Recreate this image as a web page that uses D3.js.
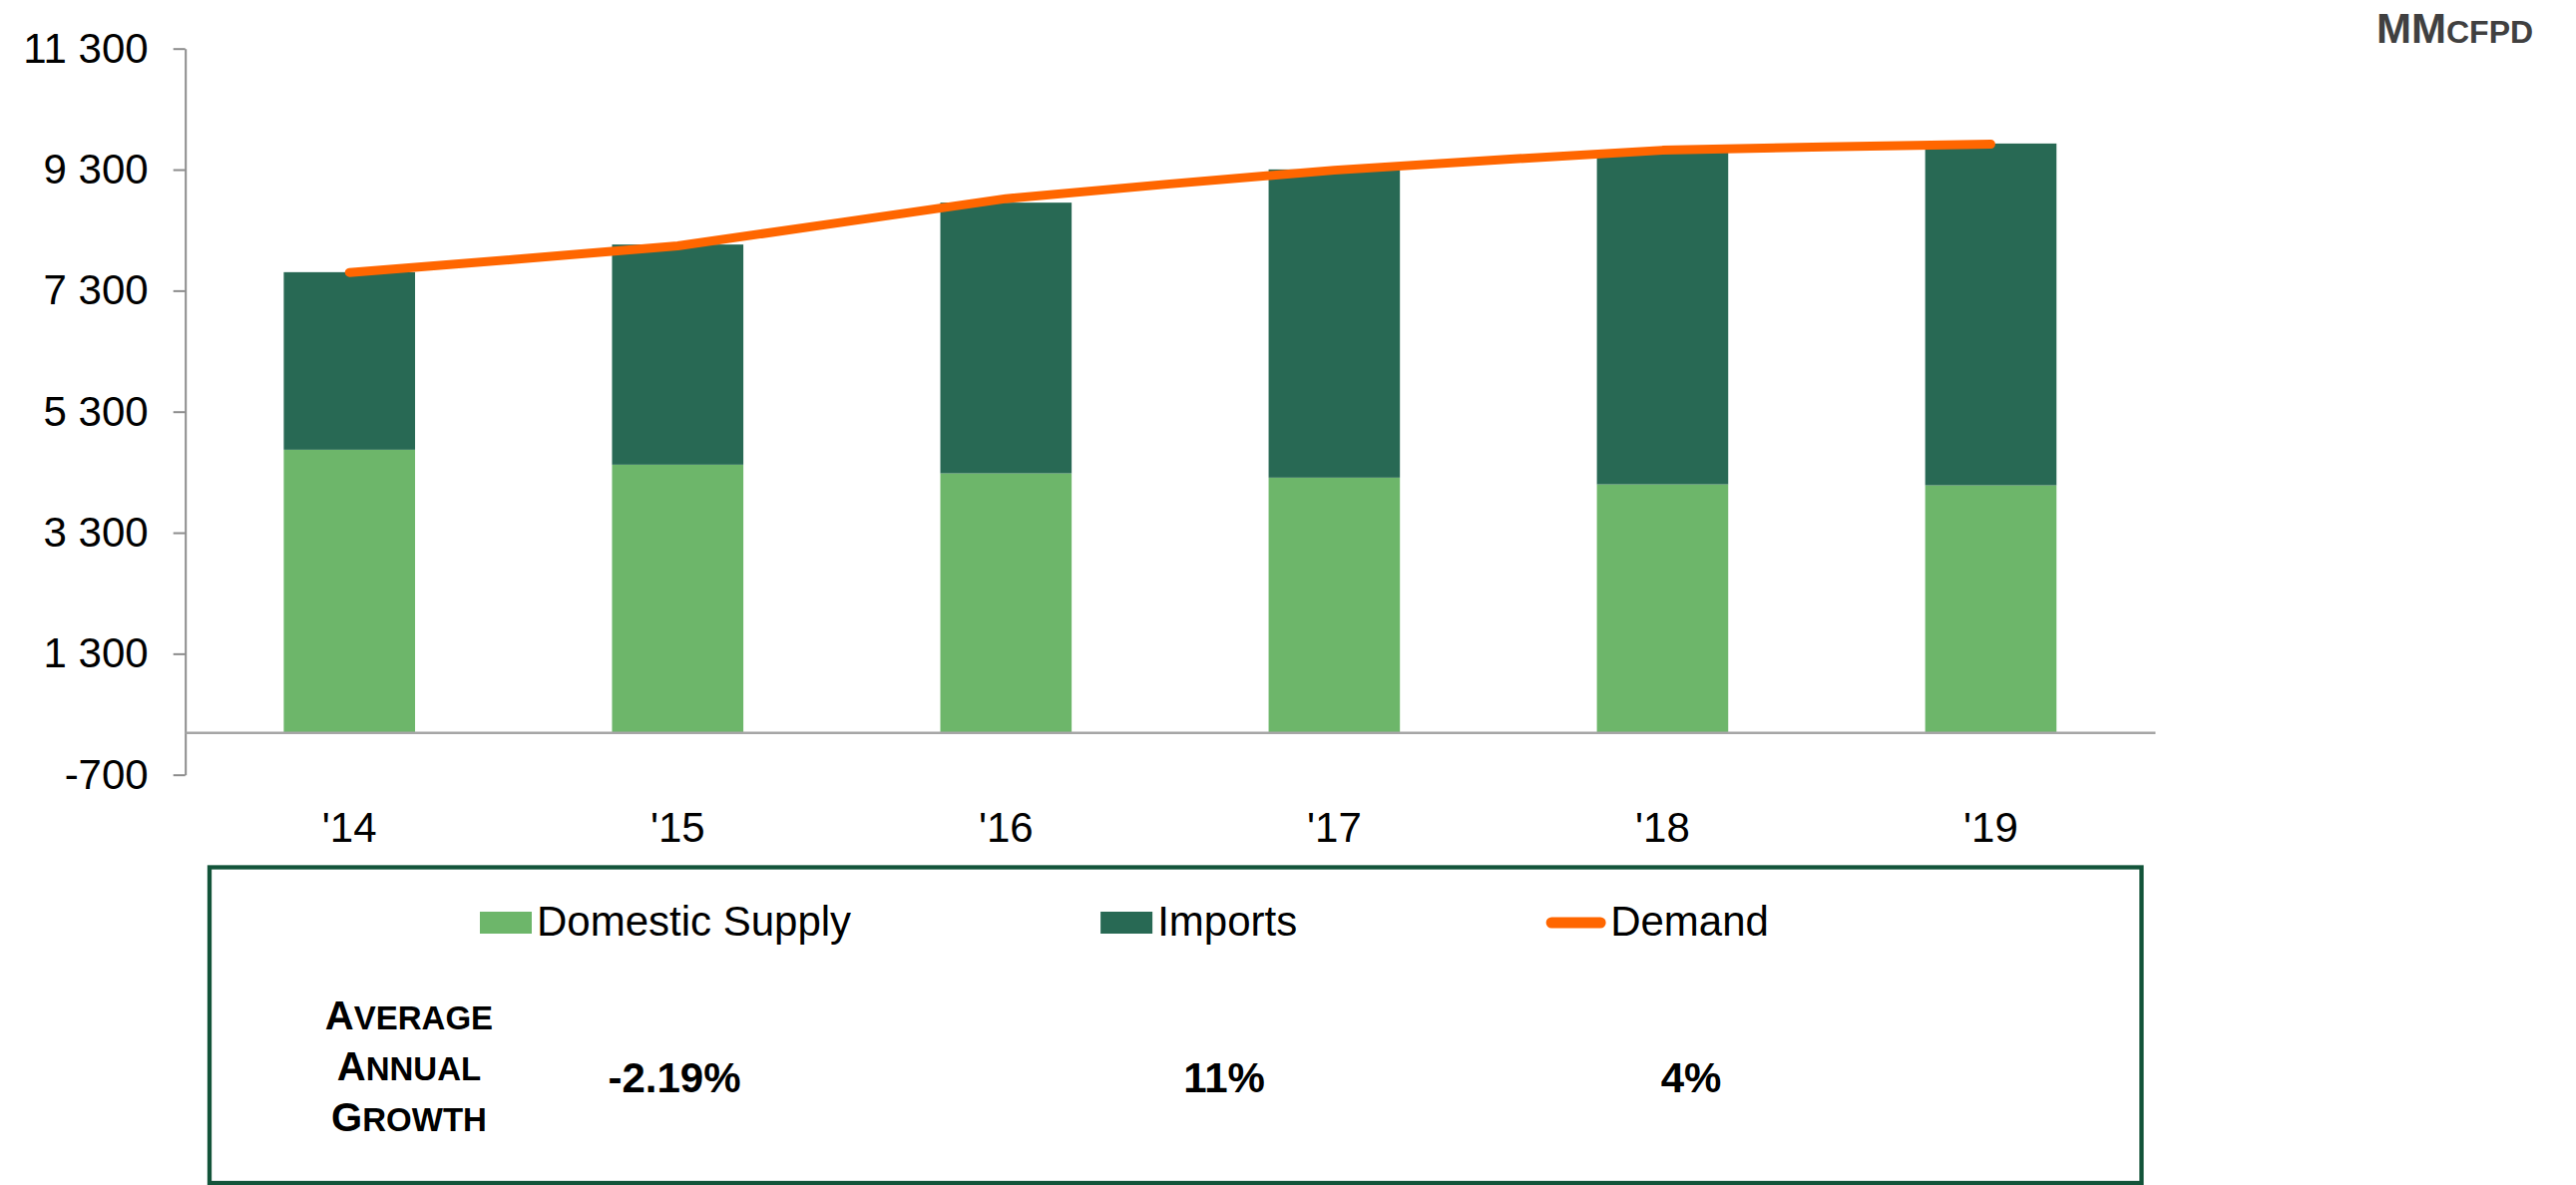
<!DOCTYPE html>
<html>
<head>
<meta charset="utf-8">
<script src="https://cdn.jsdelivr.net/npm/d3@7"></script>
<style>
  body { margin: 0; background: #fff; }
  svg { display: block; font-family: "Liberation Sans", Arial, sans-serif; }
</style>
</head>
<body>
<svg id="chart" width="2582" height="1188"></svg>
<script>
// data (MMcfpd)
const years = ["'14", "'15", "'16", "'17", "'18", "'19"]
const domestic = [4671, 4424, 4281, 4210, 4099, 4083]
const imports = [2934, 3638, 4473, 5093, 5484, 5648]
const demand = [7600, 8040, 8820, 9290, 9620, 9720]
const yTicks = [-700, 1300, 3300, 5300, 7300, 9300, 11300]
const seriesNames = ["Domestic Supply", "Imports", "Demand"]
const growth = ["-2.19%", "11%", "4%"]
const growthTitle = ["Average", "Annual", "Growth"]

const colors = { domestic: "#6db66a", imports: "#286954", demand: "#ff6600" }

const plotLeft = 185.7, plotRight = 2160, plotTop = 48.7, plotBottom = 776.7

const svg = d3.select('#chart')

const x = d3.scaleBand()
    .domain(years)
    .range([plotLeft, plotRight])
    .paddingInner(0.6)
    .paddingOuter(0.3)

const y = d3.scaleLinear()
    .domain([-700, 11300])
    .range([plotBottom, plotTop])

const fmt = d3.formatLocale({ decimal: ".", thousands: " ", grouping: [3], currency: ["", ""], minus: "-" }).format(",")

// y axis
const yAxis = svg.append('g')
    .attr('transform', `translate(${plotLeft},0)`)
    .call(d3.axisLeft(y).tickValues(yTicks).tickFormat(fmt).tickSizeInner(12).tickSizeOuter(0).tickPadding(25))
yAxis.select('.domain').attr('stroke', '#8c8c8c').attr('stroke-width', 2)
yAxis.selectAll('.tick line').attr('stroke', '#8c8c8c').attr('stroke-width', 2)
yAxis.selectAll('.tick text')
    .attr('font-size', 42)
    .attr('fill', '#000')
    .attr('font-family', '"Liberation Sans", Arial, sans-serif')
    .attr('dy', '0.32em')

// stacked bars
const rows = years.map((yr, i) => ({ year: yr, domestic: domestic[i], imports: imports[i] }))
const stack = d3.stack().keys(['domestic', 'imports'])(rows)

svg.append('g')
    .selectAll('g')
    .data(stack)
    .join('g')
    .attr('fill', d => colors[d.key])
    .selectAll('rect')
    .data(d => d)
    .join('rect')
    .attr('x', d => x(d.data.year))
    .attr('width', x.bandwidth())
    .attr('y', d => y(d[1]))
    .attr('height', d => y(d[0]) - y(d[1]))

// x axis at zero
const xAxis = svg.append('g')
    .attr('transform', `translate(0,${y(0)})`)
    .call(d3.axisBottom(x).tickSize(0).tickPadding(80))
xAxis.select('.domain').attr('stroke', '#a6a6a6').attr('stroke-width', 2.5)
xAxis.selectAll('.tick text')
    .attr('font-size', 42)
    .attr('fill', '#000')
    .attr('font-family', '"Liberation Sans", Arial, sans-serif')

// demand line, lightly smoothed like the original
const line = d3.line()
    .x((d, i) => x(years[i]) + x.bandwidth() / 2)
    .y(d => y(d))
    .curve(d3.curveCardinal.tension(0.7))

svg.append('path')
    .datum(demand)
    .attr('d', line)
    .attr('fill', 'none')
    .attr('stroke', colors.demand)
    .attr('stroke-width', 9)
    .attr('stroke-linecap', 'round')
    .attr('stroke-linejoin', 'round')

// unit label
const unit = svg.append('text')
    .attr('x', 2382).attr('y', 43)
    .attr('fill', '#404040')
    .attr('font-weight', 'bold')
unit.append('tspan').attr('font-size', 42).text('MM')
unit.append('tspan').attr('font-size', 32).text('CFPD')

// legend box
svg.append('rect')
    .attr('x', 210).attr('y', 869.5)
    .attr('width', 1936.5).attr('height', 316.5)
    .attr('fill', 'none')
    .attr('stroke', '#13543a')
    .attr('stroke-width', 4.3)

const legendKeys = ['domestic', 'imports', 'demand']
let lx = 481
const legend = svg.append('g')
seriesNames.forEach((name, i) => {
    const key = legendKeys[i]
    const g = legend.append('g').attr('transform', `translate(${lx},925)`)
    let sw = 52
    if (key === 'demand') {
        sw = 59
        g.append('line')
            .attr('x1', 5).attr('x2', sw - 5)
            .attr('stroke', colors.demand)
            .attr('stroke-width', 11)
            .attr('stroke-linecap', 'round')
    } else {
        g.append('rect')
            .attr('y', -11).attr('width', sw).attr('height', 22)
            .attr('fill', colors[key])
    }
    const t = g.append('text')
        .attr('x', sw + 5).attr('y', 13)
        .attr('font-size', 42)
        .attr('fill', '#000')
        .text(name)
    lx += sw + 5 + t.node().getComputedTextLength() + 250
})

// average annual growth
const gt = svg.append('text')
    .attr('text-anchor', 'middle')
    .attr('font-weight', 'bold')
    .attr('fill', '#000')
growthTitle.forEach((w, i) => {
    const ts = gt.append('tspan').attr('x', 410).attr('y', 1032 + i * 51)
    ts.append('tspan').attr('font-size', 40).text(w[0].toUpperCase())
    ts.append('tspan').attr('font-size', 33).text(w.slice(1).toUpperCase())
})

const growthX = [676, 1227, 1695]
svg.append('g')
    .selectAll('text')
    .data(growth)
    .join('text')
    .attr('x', (d, i) => growthX[i])
    .attr('y', 1095)
    .attr('text-anchor', 'middle')
    .attr('font-size', 42)
    .attr('font-weight', 'bold')
    .attr('fill', '#000')
    .text(d => d)
</script>
</body>
</html>
